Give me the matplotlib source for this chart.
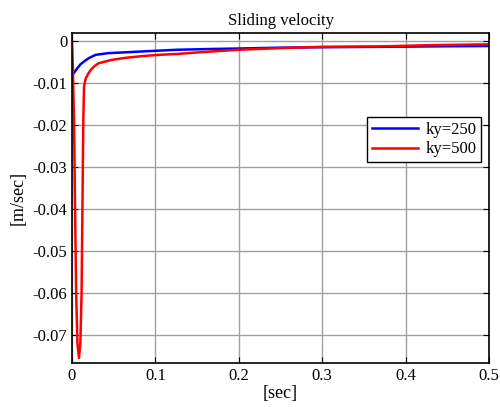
import numpy as np
import matplotlib
matplotlib.use('Agg')
import matplotlib.pyplot as plt

plt.rcParams['font.family'] = ['Liberation Serif', 'DejaVu Serif']

# time samples [sec] and sliding velocity [m/sec]
t_250 = [0.002, 0.006, 0.010, 0.0144, 0.020, 0.0285, 0.044, 0.065, 0.084, 0.126,
         0.17, 0.2, 0.25, 0.3, 0.37, 0.43, 0.5]
v_250 = [-0.0077, -0.0066, -0.0056, -0.0049, -0.0041, -0.0033, -0.0029, -0.0027, -0.0025,
         -0.0021, -0.0019, -0.0018, -0.0016, -0.0015, -0.0014, -0.0013, -0.0012]

t_500 = [0.0, 0.001, 0.0025, 0.004, 0.005, 0.0065, 0.0084, 0.010, 0.0115, 0.0125,
         0.0135, 0.0144, 0.0165, 0.0195, 0.0225, 0.027, 0.032, 0.040, 0.048, 0.065,
         0.085, 0.105, 0.126, 0.16, 0.2, 0.25, 0.3, 0.37, 0.43, 0.5]
v_500 = [0.0, -0.006, -0.020, -0.045, -0.060, -0.072, -0.0755, -0.072, -0.060, -0.040,
         -0.020, -0.0109, -0.0089, -0.0078, -0.0069, -0.0060, -0.0053, -0.0049, -0.0045,
         -0.0040, -0.0036, -0.0033, -0.0031, -0.0026, -0.0021, -0.0017, -0.0014,
         -0.0013, -0.0010, -0.0008]

labels = ['ky=250', 'ky=500']

fig = plt.figure(figsize=(5.0, 4.07), dpi=100)
ax = fig.add_axes([0.144, 0.108, 0.834, 0.811])

ax.plot(t_250, v_250, color='#0000ff', lw=1.8, label=labels[0])
ax.plot(t_500, v_500, color='#ff0000', lw=1.8, label=labels[1])

ax.set_xlim(0, 0.5)
ax.set_ylim(-0.0767, 0.0019)
ax.set_xticks(np.arange(0, 0.51, 0.1))
ax.set_xticklabels(['0', '0.1', '0.2', '0.3', '0.4', '0.5'])
ax.set_yticks([0, -0.01, -0.02, -0.03, -0.04, -0.05, -0.06, -0.07])
ax.set_yticklabels(['0', '-0.01', '-0.02', '-0.03', '-0.04', '-0.05', '-0.06', '-0.07'])
ax.tick_params(direction='in', top=True, right=True, labelsize=12, length=4)
ax.grid(True, color='#a0a0a0', lw=1)
for s in ax.spines.values():
    s.set_linewidth(1.2)

ax.set_title('Sliding velocity', fontsize=12)
ax.set_xlabel('[sec]', fontsize=13, labelpad=1)
ax.set_ylabel('[m/sec]', fontsize=13)

leg = ax.legend(loc='upper left', bbox_to_anchor=(0.707, 0.745), borderaxespad=0,
                fontsize=12, fancybox=False, framealpha=1, edgecolor='black',
                borderpad=0.3, handlelength=2.8, labelspacing=0.2, handletextpad=0.4)
leg.get_frame().set_linewidth(1.0)

fig.savefig('out.png', dpi=100)
